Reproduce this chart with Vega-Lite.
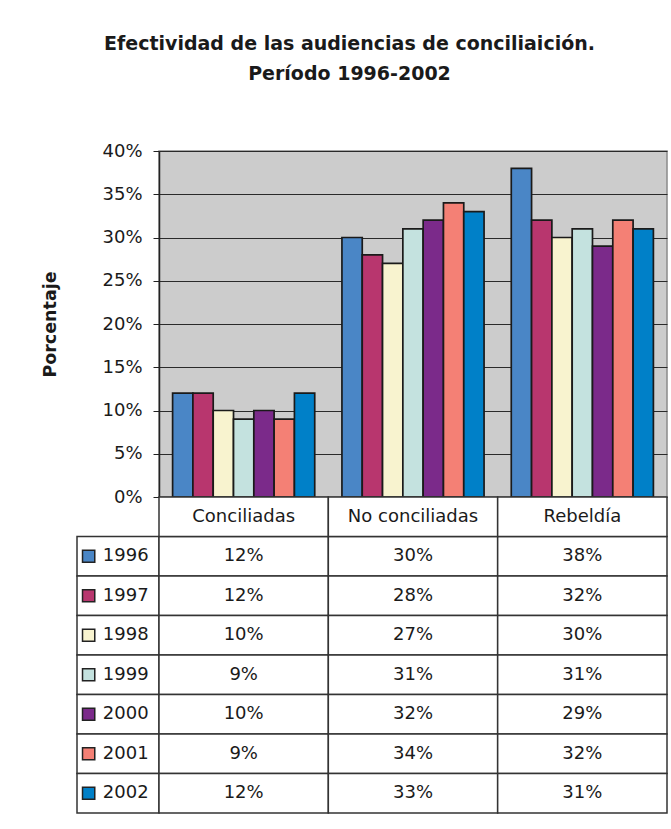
{
  "$schema": "https://vega.github.io/schema/vega-lite/v6.json",
  "padding": {"left": 41, "top": 35, "right": 5, "bottom": 5},
  "background": "white",
  "title": {
    "text": ["Efectividad de las audiencias de conciliaición.", "Período 1996-2002"],
    "font": "DejaVu Sans",
    "fontSize": 19,
    "fontWeight": "bold",
    "lineHeight": 30,
    "color": "#1a1a1a",
    "anchor": "middle",
    "offset": 57,
    "dx": -5
  },
  "config": {"view": {"stroke": null}, "font": "DejaVu Sans"},
  "columns": 2,
  "spacing": 0,
  "bounds": "flush",
  "datasets": {
    "d": [
      {"category": "Conciliadas", "year": "1996", "value": 0.12},
      {"category": "Conciliadas", "year": "1997", "value": 0.12},
      {"category": "Conciliadas", "year": "1998", "value": 0.10},
      {"category": "Conciliadas", "year": "1999", "value": 0.09},
      {"category": "Conciliadas", "year": "2000", "value": 0.10},
      {"category": "Conciliadas", "year": "2001", "value": 0.09},
      {"category": "Conciliadas", "year": "2002", "value": 0.12},
      {"category": "No conciliadas", "year": "1996", "value": 0.30},
      {"category": "No conciliadas", "year": "1997", "value": 0.28},
      {"category": "No conciliadas", "year": "1998", "value": 0.27},
      {"category": "No conciliadas", "year": "1999", "value": 0.31},
      {"category": "No conciliadas", "year": "2000", "value": 0.32},
      {"category": "No conciliadas", "year": "2001", "value": 0.34},
      {"category": "No conciliadas", "year": "2002", "value": 0.33},
      {"category": "Rebeldía", "year": "1996", "value": 0.38},
      {"category": "Rebeldía", "year": "1997", "value": 0.32},
      {"category": "Rebeldía", "year": "1998", "value": 0.30},
      {"category": "Rebeldía", "year": "1999", "value": 0.31},
      {"category": "Rebeldía", "year": "2000", "value": 0.29},
      {"category": "Rebeldía", "year": "2001", "value": 0.32},
      {"category": "Rebeldía", "year": "2002", "value": 0.31}
    ]
  },
  "concat": [
    {
      "width": 82,
      "height": 346,
      "data": {"values": [{}]},
      "mark": {"type": "point", "opacity": 0},
      "encoding": {}
    },
    {
      "width": 508,
      "height": 346,
      "data": {"name": "d"},
      "view": {"fill": "#cccccc", "stroke": "#8a8a8a", "strokeWidth": 1.5},
      "mark": {"type": "bar", "stroke": "#1a1a1a", "strokeWidth": 1.7},
      "encoding": {
        "x": {
          "field": "category", "type": "nominal",
          "sort": ["Conciliadas", "No conciliadas", "Rebeldía"],
          "scale": {"paddingInner": 0, "paddingOuter": 0},
          "axis": null
        },
        "xOffset": {
          "field": "year", "type": "nominal",
          "scale": {"paddingInner": 0, "paddingOuter": 0.67}
        },
        "y": {
          "field": "value", "type": "quantitative",
          "scale": {"domain": [0, 0.4], "nice": false},
          "axis": {
            "format": ".0%",
            "values": [0, 0.05, 0.1, 0.15, 0.2, 0.25, 0.3, 0.35, 0.4],
            "title": "Porcentaje",
            "titleFont": "DejaVu Sans",
            "titleFontSize": 17.5,
            "titleFontWeight": "bold",
            "titleColor": "#1a1a1a",
            "titlePadding": 42,
            "labelFont": "DejaVu Sans",
            "labelFontSize": 18,
            "labelColor": "#1a1a1a",
            "labelPadding": 11,
            "labelFlush": false,
            "tickSize": 6,
            "tickColor": "#222222",
            "domainColor": "#222222",
            "domainWidth": 1.5,
            "grid": true,
            "gridColor": "#2a2a2a",
            "gridWidth": 1
          }
        },
        "color": {
          "field": "year", "type": "nominal",
          "scale": {
            "domain": ["1996", "1997", "1998", "1999", "2000", "2001", "2002"],
            "range": ["#4a86c6", "#b8366e", "#f8f3cf", "#c4e2df", "#7b2a8a", "#f48075", "#0080c8"]
          },
          "legend": null
        }
      }
    },
    {
      "width": 82,
      "height": 316,
      "data": {"name": "d"},
      "transform": [{"filter": "datum.category == 'Conciliadas'"}],
      "layer": [
        {
          "mark": {"type": "rect", "fill": "white", "stroke": "#333333", "strokeWidth": 1.5},
          "encoding": {
            "y": {
              "field": "year", "type": "nominal",
              "scale": {"domain": ["header", "1996", "1997", "1998", "1999", "2000", "2001", "2002"], "paddingInner": 0, "paddingOuter": 0},
              "axis": null
            }
          }
        },
        {
          "mark": {"type": "point", "shape": "square", "size": 150, "filled": true, "opacity": 1, "stroke": "#222222", "strokeWidth": 1.5},
          "encoding": {
            "x": {
              "datum": "swatch", "type": "nominal",
              "scale": {"type": "point", "domain": ["swatch", "label"], "padding": 0.183, "align": 0.53},
              "axis": null
            },
            "y": {"field": "year", "type": "nominal"},
            "color": {
              "field": "year", "type": "nominal",
              "scale": {
                "domain": ["1996", "1997", "1998", "1999", "2000", "2001", "2002"],
                "range": ["#4a86c6", "#b8366e", "#f8f3cf", "#c4e2df", "#7b2a8a", "#f48075", "#0080c8"]
              },
              "legend": null
            }
          }
        },
        {
          "mark": {"type": "text", "align": "right", "baseline": "middle", "font": "DejaVu Sans", "fontSize": 18, "color": "#1a1a1a"},
          "encoding": {
            "x": {"datum": "label", "type": "nominal"},
            "y": {"field": "year", "type": "nominal"},
            "text": {"field": "year"}
          }
        }
      ]
    },
    {
      "width": 508,
      "height": 316,
      "data": {"name": "d"},
      "encoding": {
        "x": {
          "field": "category", "type": "nominal",
          "sort": ["Conciliadas", "No conciliadas", "Rebeldía"],
          "scale": {"paddingInner": 0, "paddingOuter": 0},
          "axis": null
        }
      },
      "layer": [
        {
          "mark": {"type": "rect", "fill": "white", "stroke": "#333333", "strokeWidth": 1.5},
          "encoding": {
            "y": {
              "field": "year", "type": "nominal",
              "scale": {"domain": ["header", "1996", "1997", "1998", "1999", "2000", "2001", "2002"], "paddingInner": 0, "paddingOuter": 0},
              "axis": null
            }
          }
        },
        {
          "mark": {"type": "text", "align": "center", "baseline": "middle", "font": "DejaVu Sans", "fontSize": 18, "color": "#1a1a1a"},
          "encoding": {
            "y": {"field": "year", "type": "nominal"},
            "text": {"field": "value", "type": "quantitative", "format": ".0%"}
          }
        },
        {
          "transform": [{"filter": "datum.year == '1996'"}],
          "mark": {"type": "rect", "fill": "white", "stroke": "#333333", "strokeWidth": 1.5},
          "encoding": {
            "y": {"datum": "header", "type": "nominal"}
          }
        },
        {
          "transform": [{"filter": "datum.year == '1996'"}],
          "mark": {"type": "text", "align": "center", "baseline": "middle", "font": "DejaVu Sans", "fontSize": 18, "color": "#1a1a1a"},
          "encoding": {
            "y": {"datum": "header", "type": "nominal"},
            "text": {"field": "category"}
          }
        }
      ]
    }
  ]
}
